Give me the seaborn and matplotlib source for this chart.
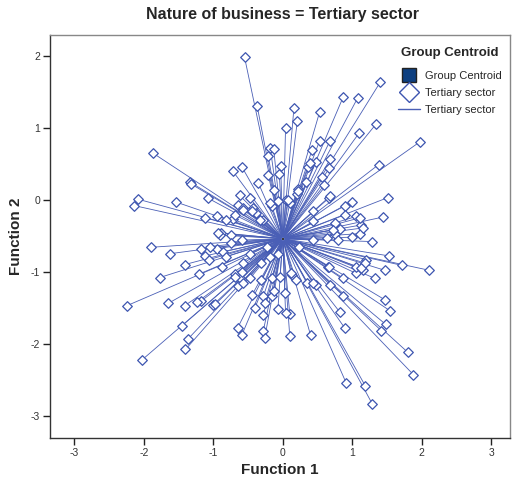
import matplotlib
matplotlib.use("Agg")
import matplotlib.pyplot as plt
from matplotlib.lines import Line2D
import numpy as np
import pandas as pd
import seaborn as sns

# ---- data ----
centroid_x = [0.0]
centroid_y = [-0.54]

func1 = [-0.55, -0.37, 0.16, 0.21, 0.04, 0.53, 0.87, 1.08, 1.40, 1.34,
         1.10, 1.98, 1.38, 0.68, 0.53, 0.42, 0.68, 0.48, 0.36, 0.67,
         0.56, 0.60, -0.18, -0.13, -0.21, -0.03, -0.05, -0.21, -0.35, -0.72,
         -0.59, -1.87, -1.34, -1.32, -1.07, -1.54, -2.09, -2.14, -1.12, -0.94,
         -0.62, -0.47, -0.64, -0.72, -0.89, -0.74, -0.57, -0.43, -0.16, -0.13,
         0.04, 0.22, 0.20, 0.67, 0.89, 1.00, 1.51, 1.44, 0.89, 1.06,
         1.13, 1.11, 1.00, 0.75, 1.28, 0.44, 1.53, 1.71, 2.11, 1.47,
         1.32, 1.20, 1.16, 1.05, 0.87, 0.65, 0.68, 0.48, 0.35, 0.87,
         1.47, 1.54, 0.82, 1.48, 1.42, 0.89, 0.40, 0.10, 1.80, 1.88,
         0.91, 1.19, 1.29, 0.10, 0.04, -0.07, 0.03, -0.28, -0.40, -0.28,
         -0.15, -0.26, -0.44, -0.28, -0.26, -0.65, -0.59, -1.00, -0.97, -1.18,
         -1.23, -1.41, -1.65, -1.45, -1.37, -1.40, -2.02, -2.24, -1.77, -1.20,
         -1.41, -1.63, -1.90, -1.18, -1.12, -1.06, -0.95, -0.86, -0.87, -0.69,
         -0.62, -0.64, -0.47, -0.31, -0.15, -0.04, 0.13, 0.19, -0.58, -0.74,
         -0.59, -0.47, -0.31, -0.19, -0.38, -0.28, -0.19, 0.10, 0.44, 0.75,
         0.82, 1.19, 1.06, -0.81, -0.91, -0.07, 0.08, 0.22, 0.34, 0.39,
         0.68, 1.11, 1.16, 0.72, 0.44, 0.12, -0.12, -0.57, -0.69, -0.57,
         -0.81, -1.05, -0.93, -0.69, -0.57, -0.45, -0.33, -0.23, -0.07, 0.24,
         0.44, 0.63, 0.80, 1.13, 0.66]

func2 = [1.98, 1.31, 1.27, 1.10, 1.00, 1.22, 1.43, 1.42, 1.63, 1.05,
         0.93, 0.81, 0.49, 0.82, 0.82, 0.69, 0.56, 0.53, 0.46, 0.44,
         0.32, 0.21, 0.72, 0.70, 0.61, 0.47, 0.36, 0.35, 0.23, 0.40,
         0.46, 0.65, 0.25, 0.22, 0.02, -0.03, 0.01, -0.08, -0.25, -0.22,
         0.06, 0.02, -0.07, -0.27, -0.46, -0.49, -0.12, -0.12, -0.08, 0.14,
         0.00, 0.15, 0.08, 0.03, -0.08, -0.03, 0.03, -0.24, -0.21, -0.23,
         -0.35, -0.47, -0.52, -0.47, -0.58, -0.30, -0.78, -0.91, -0.98, -0.98,
         -1.09, -0.83, -0.98, -1.02, -1.09, -0.93, -1.18, -1.19, -1.15, -1.33,
         -1.39, -1.54, -1.56, -1.73, -1.82, -1.78, -1.88, -1.89, -2.12, -2.43,
         -2.54, -2.59, -2.84, -1.58, -1.57, -1.52, -1.30, -1.60, -1.50, -1.34,
         -1.34, -1.44, -1.32, -1.82, -1.92, -1.78, -1.88, -1.46, -1.45, -1.41,
         -1.42, -1.47, -1.44, -1.75, -1.94, -2.08, -2.22, -1.47, -1.08, -1.03,
         -0.90, -0.75, -0.66, -0.69, -0.78, -0.83, -0.68, -0.72, -0.94, -1.03,
         -1.09, -1.20, -1.09, -1.12, -1.09, -1.07, -1.04, -1.11, -1.00, -0.60,
         -0.56, -0.75, -0.88, -0.79, -0.19, -0.28, -0.05, -0.05, -0.16, -0.32,
         -0.40, -0.88, -0.93, -0.28, -0.49, -0.02, 0.00, 0.12, 0.25, 0.51,
         0.05, -0.25, -0.39, -0.42, -1.16, -1.02, -1.27, -1.16, -1.07, -0.88,
         -0.79, -0.65, -0.46, -0.21, -0.14, -0.16, -0.28, -0.65, -0.76, -0.65,
         -0.56, -0.53, -0.56, -0.95, -0.93]

group_label = "Tertiary sector"

# ---- tidy frames ----
pts = pd.DataFrame({"Function 1": func1, "Function 2": func2})
pts["id"] = np.arange(len(pts))
cen = pd.DataFrame({"Function 1": centroid_x, "Function 2": centroid_y})

seg_rows = []
for i, (fx, fy) in enumerate(zip(func1, func2)):
    seg_rows.append({"id": i, "order": 0, "Function 1": centroid_x[0], "Function 2": centroid_y[0]})
    seg_rows.append({"id": i, "order": 1, "Function 1": fx, "Function 2": fy})
segs = pd.DataFrame(seg_rows)

sns.set_theme(style="white")
plt.rcParams["font.family"] = ["Liberation Sans", "DejaVu Sans"]
plt.rcParams["axes.unicode_minus"] = False

line_col = "#4a5fb6"
mark_col = "#3d55b0"
cent_col = "#0d3f80"

fig = plt.figure(figsize=(5.13, 4.84), dpi=100)
ax = fig.add_axes([50 / 513, 46 / 484, 460 / 513, 403 / 484])

sns.lineplot(data=segs, x="Function 1", y="Function 2", units="id",
             estimator=None, sort=False, color=line_col, linewidth=0.6,
             ax=ax, legend=False, zorder=2)
sns.scatterplot(data=pts, x="Function 1", y="Function 2", marker="D",
                s=24, facecolor="white", edgecolor=mark_col, linewidth=0.9,
                ax=ax, zorder=3, legend=False)
sns.scatterplot(data=cen, x="Function 1", y="Function 2", marker="s",
                s=3, color="#111111", ax=ax, zorder=4, legend=False)

ax.set_xlim(-3.35, 3.27)
ax.set_ylim(-3.31, 2.29)
ax.set_xticks([-3, -2, -1, 0, 1, 2, 3])
ax.set_yticks([-3, -2, -1, 0, 1, 2])
ax.tick_params(axis="both", which="major", direction="out", length=5,
               width=1, color="#222222", labelsize=7.5, labelcolor="#333333",
               bottom=True, left=True, pad=2)

for side in ["left", "bottom"]:
    ax.spines[side].set_color("#333333")
    ax.spines[side].set_linewidth(1.0)
for side in ["top", "right"]:
    ax.spines[side].set_color("#888888")
    ax.spines[side].set_linewidth(1.0)

ax.set_xlabel("Function 1", fontsize=11, fontweight="bold", labelpad=4)
ax.set_ylabel("Function 2", fontsize=11, fontweight="bold", labelpad=6)
fig.suptitle("Nature of business = Tertiary sector", x=0.55, y=0.985,
             fontsize=11.5, fontweight="bold")

handles = [
    Line2D([], [], marker="s", linestyle="none", markersize=10,
           markerfacecolor=cent_col, markeredgecolor="#222222"),
    Line2D([], [], marker="D", linestyle="none", markersize=10,
           markerfacecolor="white", markeredgecolor=mark_col, markeredgewidth=1.0),
    Line2D([], [], color=line_col, linewidth=1.0),
]
leg = ax.legend(handles, ["Group Centroid", group_label, group_label],
                title="Group Centroid", loc="upper right",
                bbox_to_anchor=(1.0, 0.99), frameon=False, fontsize=8,
                handlelength=2.0, handletextpad=0.5, labelspacing=0.6,
                borderaxespad=0.3)
leg.get_title().set_fontweight("bold")
leg.get_title().set_fontsize(9.5)
leg._legend_box.sep = 9

fig.savefig("out.png", dpi=100)
